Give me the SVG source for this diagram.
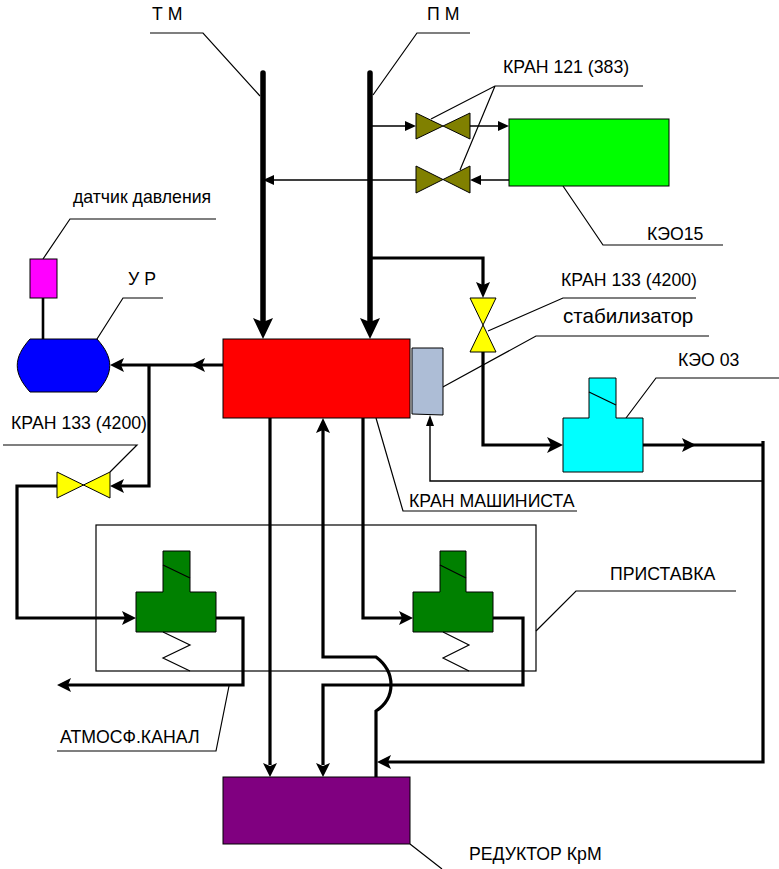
<svg xmlns="http://www.w3.org/2000/svg" width="779" height="869" viewBox="0 0 779 869">
<style>
text{font-family:"Liberation Sans",Arial,sans-serif;font-size:17.7px;fill:#000}
.s{fill:none;stroke:#000;stroke-width:1.2}
.n{fill:none;stroke:#000;stroke-width:1.4}
.m{fill:none;stroke:#000;stroke-width:2.6}
.t{fill:none;stroke:#000;stroke-width:3.2}
.b{fill:none;stroke:#000;stroke-width:5.5;stroke-linecap:round}
.f{stroke:#000;stroke-width:1}
.a{fill:#000}
</style>
<rect width="779" height="869" fill="#fff"/>
<g id="connectors">
<path class="b" d="M263 73V325M370 73V325"/>
<path class="a" d="M263 339L253 318L263 322L273 318ZM370 339L360 318L370 322L380 318Z"/>
<path class="t" d="M370 258H483V285"/>
<path class="a" d="M483 298L476 282L483 285L490 282Z"/>
<path class="t" d="M483 352V445H552"/>
<path class="a" d="M563 445L547 437L551 445L547 453Z"/>
<path class="t" d="M643 445H763M763 441V762H385"/>
<path class="a" d="M696 445L682 438L685 445L682 452ZM377 762L391 755L388 762L391 769Z"/>
<path class="n" d="M372 126H405M470 126H500M509 180H480M416 180H272"/>
<path class="a" d="M416 126L405 121V131ZM509 126L498 121V131ZM470 180L481 175V185ZM263 180L274 175V185Z"/>
<path class="n" d="M763 481H430V425"/>
<path class="a" d="M430 415L426 426H434Z"/>
<path class="m" d="M43 298V339"/>
<path class="t" d="M223 365H120M149 365V486H120"/>
<path class="a" d="M110 365L124 358L121 365L124 372ZM191 365L205 358L202 365L205 372ZM110 486L124 479L121 486L124 493Z"/>
<path class="t" d="M57 486H17V618H125"/>
<path class="a" d="M136 618L122 611L125 618L122 625Z"/>
<path class="t" d="M216 618H243V685H68"/>
<path class="a" d="M57 685L71 678L68 685L71 692Z"/>
<path class="t" d="M363 417V618H402"/>
<path class="a" d="M413 618L399 611L402 618L399 625Z"/>
<path class="t" d="M493 618H523V685H323V765"/>
<path class="a" d="M323 777L316 763L323 766L330 763Z"/>
<path class="t" d="M270 417V765"/>
<path class="a" d="M270 777L263 763L270 766L277 763Z"/>
<path class="t" d="M376 778V711C396 698 396 672 376 657H323V430"/>
<path class="a" d="M323 418L316 433L323 430L330 433Z"/>
</g>
<g id="leaders">
<path class="s" d="M150 33H203L260 96M373 95L417 33H470"/>
<path class="s" d="M43 259L70 219H216M97 339L123 298H163"/>
<path class="s" d="M431 119L495 86H643M460 170L495 86M563 186L603 245H723"/>
<path class="s" d="M488 331L563 298H696M441 388L536 336H709M626 418L656 378H779"/>
<path class="s" d="M3 445H137L110 472M376 418L403 511H577"/>
<path class="s" d="M536 631L576 591H736M229 686L216 751H57M410 844L442 869"/>
</g>
<g id="tm"><text x="152" y="20">Т М</text></g>
<g id="pm"><text x="427" y="20">П М</text></g>
<g id="kran-121-top"><path class="f" fill="#808000" d="M416 113L470 139V113L416 139Z"/></g>
<g id="kran-121-bottom"><path class="f" fill="#808000" d="M416 166L470 193V166L416 193Z"/><text x="503" y="73">КРАН 121 (383)</text></g>
<g id="keo15"><rect class="f" x="509" y="119" width="160" height="67" fill="#0f0"/><text x="647" y="240">КЭО15</text></g>
<g id="sensor"><rect class="f" x="30" y="259" width="27" height="39" fill="#f0f"/><text x="73" y="203">датчик давления</text></g>
<g id="ur"><path class="f" fill="#00f" d="M30 339H97C114 358 114 373 97 392H30C13 373 13 358 30 339Z"/><text x="128" y="285">У Р</text></g>
<g id="kran-mashinista"><rect class="f" x="223" y="339" width="187" height="79" fill="#f00"/><text x="409" y="507">КРАН МАШИНИСТА</text></g>
<g id="stabilizer"><path class="f" fill="#adbdd6" d="M412 348H443V415L412 414Z"/><text x="563" y="323" style="font-size:20.6px">стабилизатор</text></g>
<g id="kran-133-right"><path class="f" fill="#ff0" d="M470 298H496L470 352H496Z"/><text x="561" y="286">КРАН 133 (4200)</text></g>
<g id="kran-133-left"><path class="f" fill="#ff0" d="M57 472L110 498V472L57 498Z"/><text x="11" y="429">КРАН 133 (4200)</text></g>
<g id="keo03"><path class="f" fill="#0ff" d="M589 378H616V418H643V472H563V418H589Z"/><path class="s" d="M589 392L616 405"/><text x="678" y="366">КЭО 03</text></g>
<g id="pristavka"><rect class="s" x="96" y="525" width="440" height="146"/><text x="610" y="580">ПРИСТАВКА</text></g>
<g id="valve-left"><path class="f" fill="#008000" d="M163 551H190V592H216V632H136V592H163Z"/><path class="s" d="M163 565L190 578M163 632L190 645L163 658L190 671"/></g>
<g id="valve-right"><path class="f" fill="#008000" d="M440 551H466V592H493V632H413V592H440Z"/><path class="s" d="M440 565L466 578M443 632L469 645L443 658L469 671"/></g>
<g id="atm"><text x="60" y="743">АТМОСФ.КАНАЛ</text></g>
<g id="reductor"><rect class="f" x="223" y="777" width="187" height="67" fill="#800080"/><text x="469" y="860">РЕДУКТОР КрМ</text></g>
</svg>
